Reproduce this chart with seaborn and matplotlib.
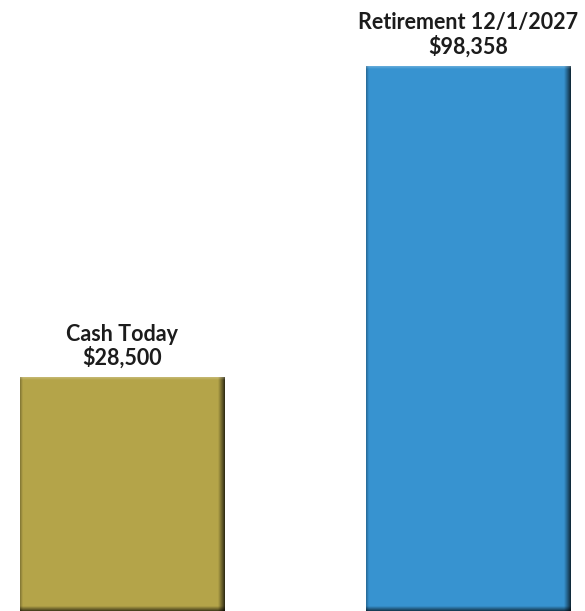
import numpy as np
import matplotlib
matplotlib.use("Agg")
import matplotlib.pyplot as plt
import matplotlib.colors as mcolors
import seaborn as sns

# Values shown on the chart
categories = ["Cash Today", "Retirement 12/1/2027"]
values = [28500, 98358]
value_labels = ["$28,500", "$98,358"]
bar_colors = ["#B4A449", "#3793D0"]

# Value axis range (bars rise from the axis floor)
AXIS_FLOOR = -24000
AXIS_TOP = 113200

sns.set_theme(style="white")
plt.rcParams["font.family"] = ["Lato", "DejaVu Sans"]

fig = plt.figure(figsize=(5.85, 6.11), dpi=100)
ax = fig.add_axes([0, 0, 1, 1])

heights = [v - AXIS_FLOOR for v in values]
sns.barplot(x=categories, y=heights, hue=categories, palette=bar_colors,
            legend=False, width=0.589, bottom=AXIS_FLOOR, linewidth=0,
            saturation=1, ax=ax)

ax.set_xlim(-0.352, 1.336)
ax.set_ylim(AXIS_FLOOR, AXIS_TOP)
ax.axis("off")


def bevel_image(color, w, h):
    """RGB array giving a bevelled face of w x h pixels."""
    base = np.array(mcolors.to_rgb(color))
    xs = np.arange(w) + 0.5
    ys = np.arange(h) + 0.5
    X, Y = np.meshgrid(xs, ys)
    f = np.ones_like(X)
    d = w - X
    f = np.where(d < 7, f * (0.22 + 0.78 * np.clip(d / 7, 0, 1) ** 0.9), f)
    d = h - Y
    f = np.where(d < 5, f * (0.35 + 0.65 * np.clip(d / 5, 0, 1)), f)
    d = X
    f = np.where(d < 3, f * (0.7 + 0.3 * np.clip(d / 3, 0, 1)), f)
    img = base[None, None, :] * f[..., None]
    d = Y
    hl = np.where(d < 3, 0.25 * (1 - d / 3), 0.0)
    img = img + (1 - img) * hl[..., None]
    return np.clip(img, 0, 1)


for patch, color in zip(ax.patches, bar_colors):
    x0 = patch.get_x()
    x1 = x0 + patch.get_width()
    y0 = patch.get_y()
    y1 = y0 + patch.get_height()
    (px0, py0), (px1, py1) = ax.transData.transform([(x0, y0), (x1, y1)])
    w = int(round(abs(px1 - px0)))
    h = int(round(abs(py1 - py0)))
    im = ax.imshow(bevel_image(color, w, h), extent=(x0, x1, y0, y1),
                   origin="upper", aspect="auto", interpolation="none",
                   zorder=3)
    im.set_clip_path(patch)

ax.set_xlim(-0.352, 1.336)
ax.set_ylim(AXIS_FLOOR, AXIS_TOP)

for i, (name, lab, v) in enumerate(zip(categories, value_labels, values)):
    ax.annotate(f"{name}\n{lab}", xy=(i, v), xytext=(0, 9),
                textcoords="offset points", ha="center", va="baseline",
                fontsize=15.5, fontweight="bold", color="#1c1c1c",
                linespacing=1.1, zorder=5)

fig.savefig("out.png", dpi=100, facecolor="white")
